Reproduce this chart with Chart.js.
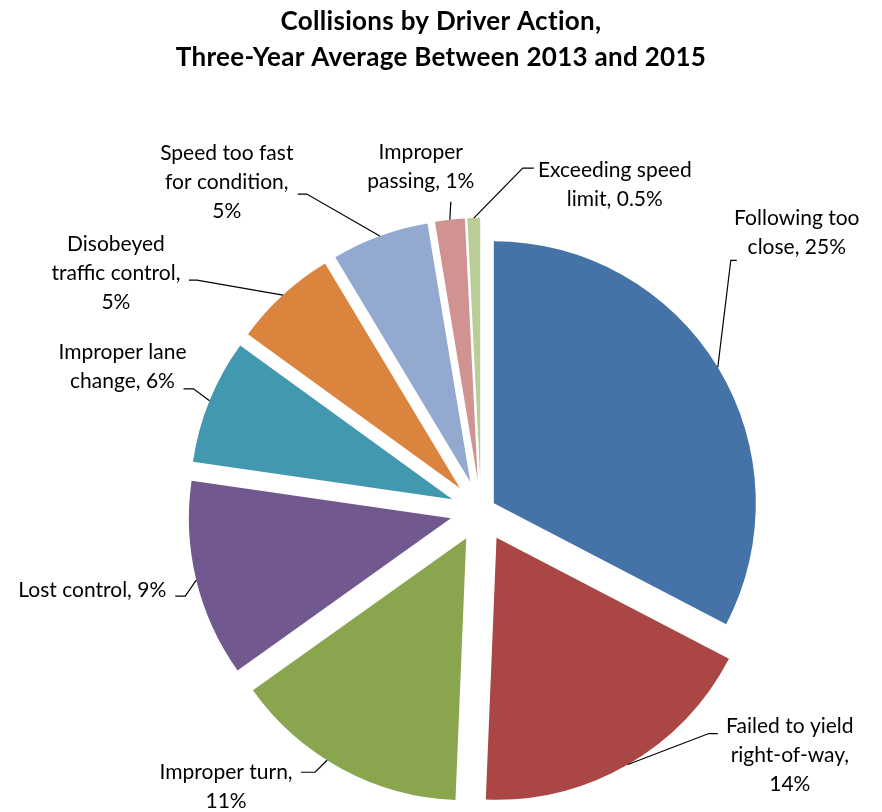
<!DOCTYPE html>
<html>
<head>
<meta charset="utf-8">
<script src="https://cdn.jsdelivr.net/npm/chart.js@4.4.1/dist/chart.umd.min.js"></script>
<style>
  html, body { margin: 0; background: #fff; }
  #wrap { width: 882px; height: 812px; position: relative; }
</style>
</head>
<body>
<div id="wrap"><canvas id="collisionChart"></canvas></div>
<script>
const titleLines = ["Collisions by Driver Action,", "Three-Year Average Between 2013 and 2015"];

const categories = [
  "Following too\nclose",
  "Failed to yield\nright-of-way",
  "Improper turn",
  "Lost control",
  "Improper lane\nchange",
  "Disobeyed\ntraffic control",
  "Speed too fast\nfor condition",
  "Improper\npassing",
  "Exceeding speed\nlimit"
];
// share of all collisions, % (slice sizes)
const shares = [25.0, 13.8, 11.1, 9.3, 5.9, 4.9, 4.6, 1.4, 0.6];
// the rounded figures printed on the chart
const shareLabels = ["25%", "14%", "11%", "9%", "6%", "5%", "5%", "1%", "0.5%"];

const colors = ["#4573A7", "#AA4644", "#89A54E", "#71598F", "#4298AF",
                "#DB843D", "#93A9CF", "#D19392", "#B9CD96"];

// how far each slice is pulled out of the pie (px)
const explode = [15, 31, 31, 31, 31, 31, 31, 31, 31];

// label placement, relative to the point where the leader meets the slice
// at = where along the slice's arc the leader attaches (0..1)
const labelLayout = [
  { at: 0.5, text: [79, -149], elbow: [13, -107], tick: 6, br: false },
  { at: 0.5, text: [162, -38], elbow: [81, -31], tick: 9, br: true },
  { at: 0.57, text: [-101, 12], elbow: [-12, 12], tick: -14, br: true },
  { at: 0.5, text: [-104, 10], elbow: [-11, 16], tick: -10, br: false },
  { at: 0.5, text: [-87, -49], elbow: [-16, -12], tick: -10, br: false },
  { at: 0.5, text: [-167, -51], elbow: [-86, -15], tick: -8, br: true },
  { at: 0.5, text: [-153, -83], elbow: [-73, -42], tick: -9, br: true },
  { at: 0.5, text: [-29, -67], elbow: [1, -18], tick: 0, br: false },
  { at: 0.5, text: [141, -48], elbow: [49, -50], tick: 11, br: false }
];

// draw each slice pulled out along its middle angle
const explodePlugin = {
  id: "explode",
  beforeDatasetDraw(chart, args) {
    const ctx = chart.ctx;
    args.meta.data.forEach((arc, i) => {
      const mid = (arc.startAngle + arc.endAngle) / 2;
      ctx.save();
      ctx.translate(Math.cos(mid) * explode[i], Math.sin(mid) * explode[i]);
      arc.draw(ctx, chart.chartArea);
      ctx.restore();
    });
    return false;
  }
};

const labelPlugin = {
  id: "sliceLabels",
  afterDatasetsDraw(chart) {
    const ctx = chart.ctx;
    const arcs = chart.getDatasetMeta(0).data;
    ctx.save();
    ctx.font = "21px Lato, 'Open Sans', sans-serif";
    ctx.fillStyle = "#000";
    ctx.strokeStyle = "#000";
    ctx.lineWidth = 1.2;
    ctx.textAlign = "center";
    ctx.textBaseline = "middle";
    arcs.forEach((arc, i) => {
      const L = labelLayout[i];
      const mid = (arc.startAngle + arc.endAngle) / 2;
      const a = arc.startAngle + (arc.endAngle - arc.startAngle) * L.at;
      const cx = arc.x + Math.cos(mid) * explode[i];
      const cy = arc.y + Math.sin(mid) * explode[i];
      const px = cx + Math.cos(a) * arc.outerRadius;
      const py = cy + Math.sin(a) * arc.outerRadius;
      const ex = px + L.elbow[0], ey = py + L.elbow[1];
      ctx.beginPath();
      ctx.moveTo(px, py);
      ctx.lineTo(ex, ey);
      ctx.lineTo(ex + L.tick, ey);
      ctx.stroke();
      const lines = (categories[i] + "," + (L.br ? "\n" : " ") + shareLabels[i]).split("\n");
      lines.forEach((t, k) => ctx.fillText(t, px + L.text[0], py + L.text[1] + k * 29));
    });
    ctx.restore();
  }
};

// title centred on the whole canvas, not on the (shifted) pie
const titlePlugin = {
  id: "pageTitle",
  afterDraw(chart) {
    const ctx = chart.ctx;
    ctx.save();
    ctx.font = "bold 26px Lato, sans-serif";
    ctx.letterSpacing = "0.3px";
    ctx.fillStyle = "#000";
    ctx.textAlign = "center";
    ctx.textBaseline = "middle";
    titleLines.forEach((t, k) => ctx.fillText(t, chart.width / 2, 22 + k * 36));
    ctx.restore();
  }
};

const ctx = document.getElementById("collisionChart");
new Chart(ctx, {
  type: "pie",
  data: {
    labels: categories.map(c => c.replace("\n", " ")),
    datasets: [{
      data: shares,
      backgroundColor: colors,
      borderWidth: 0
    }]
  },
  options: {
    responsive: true,
    maintainAspectRatio: false,
    animation: false,
    events: [],
    radius: 262,
    layout: { padding: { left: 90, right: 10, top: 216, bottom: 6 } },
    plugins: {
      legend: { display: false },
      tooltip: { enabled: false },
      title: { display: false }
    }
  },
  plugins: [explodePlugin, labelPlugin, titlePlugin]
});
</script>
</body>
</html>
